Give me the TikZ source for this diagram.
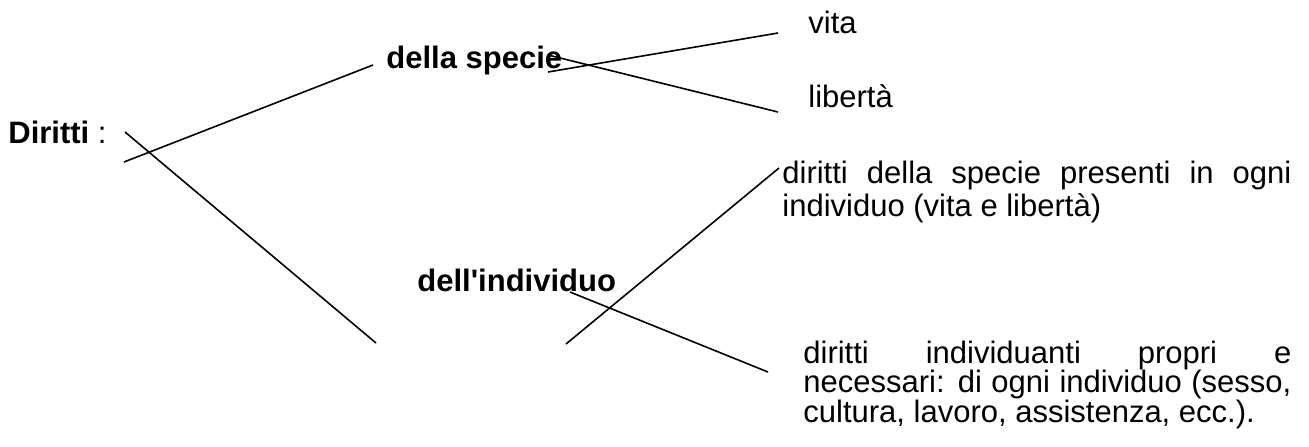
\documentclass[tikz,border=0pt]{standalone}
\usepackage{fontspec}
\setmainfont{Liberation Sans}
\usepackage{tikz}
\tikzset{
  root/.style={inner sep=0pt, anchor=base west, font=\fontsize{15.5}{16}\selectfont},
  kind/.style={inner sep=0pt, anchor=base west, font=\fontsize{15.5}{16}\selectfont\bfseries},
  leaf/.style={inner sep=0pt, anchor=base west, font=\fontsize{15.5}{16}\selectfont},
  note/.style={inner sep=0pt, anchor=base west, font=\fontsize{15.5}{16}\selectfont},
  branch/.style={line width=0.8pt},
}

\begin{document}
\begin{tikzpicture}[x=0.5pt, y=-0.5pt]
  \useasboundingbox (0,0) rectangle (1309,446);

  % ROOT
  \node[root] (diritti) at (8,143) {\textbf{Diritti} :};

  % KINDS
  \node[kind] (specie) at (386,68) {della specie};
  \node[kind] (individuo) at (417,291) {dell\textquotesingle individuo};

  % LEAVES OF "della specie"
  \node[leaf] (vita) at (808,33) {vita};
  \node[leaf] (liberta) at (808,107) {libertà};

  % NOTES OF "dell'individuo"
  \node[note] (presenti) at (782,183)
    {\vtop{\baselineskip=16.5pt
      \hbox{\makebox[254.5pt][s]{diritti della specie presenti in ogni}}
      \hbox{individuo (vita e libertà)}}};
  \node[note] (propri) at (803,363)
    {\vtop{\baselineskip=14.75pt
      \hbox{\makebox[244pt][s]{diritti individuanti propri e}}
      \hbox{\makebox[244pt][s]{necessari: di ogni individuo (sesso,}}
      \hbox{cultura, lavoro, assistenza, ecc.).}}};

  % BRANCH ENDS
  \coordinate (dirUp) at (124,162);
  \coordinate (dirDown) at (125,132);
  \coordinate (speUp) at (373,65);
  \coordinate (indDown) at (376,343);
  \coordinate (speA) at (548,72);
  \coordinate (speB) at (548,55);
  \coordinate (vitaIn) at (778,33);
  \coordinate (libIn) at (778,112);
  \coordinate (indA) at (566,344);
  \coordinate (indB) at (570,292);
  \coordinate (presIn) at (779,168);
  \coordinate (propIn) at (768,372);

  % BRANCHES
  \draw[branch] (dirUp) -- (speUp);
  \draw[branch] (dirDown) -- (indDown);
  \draw[branch] (speA) -- (vitaIn);
  \draw[branch] (speB) -- (libIn);
  \draw[branch] (indA) -- (presIn);
  \draw[branch] (indB) -- (propIn);
\end{tikzpicture}
\end{document}
